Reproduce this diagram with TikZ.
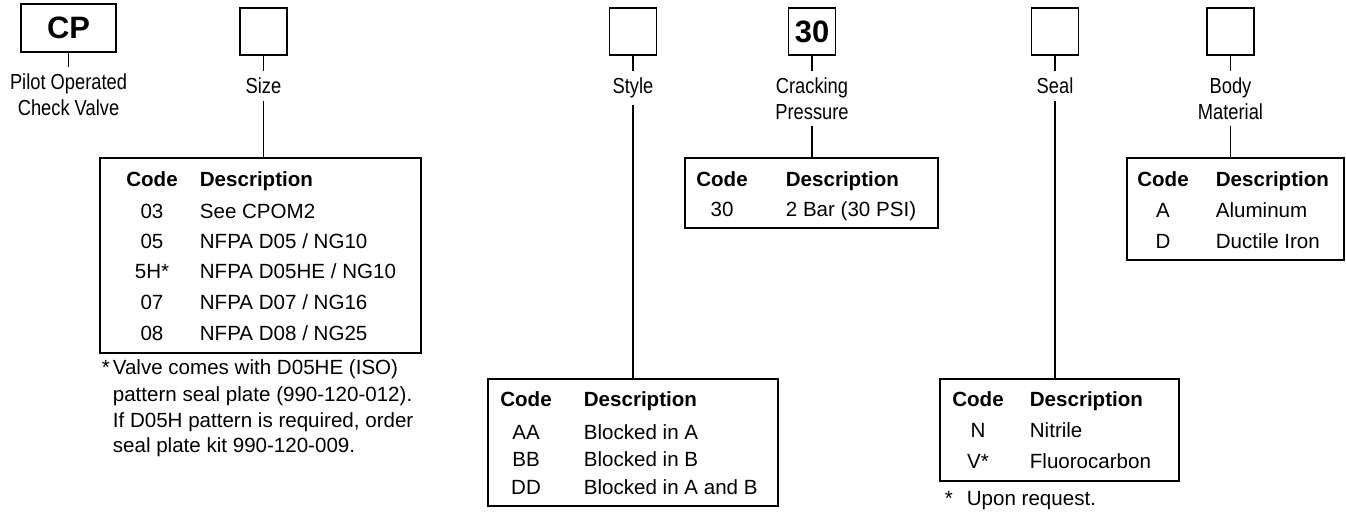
\documentclass[tikz,border=0pt]{standalone}
\usepackage{fontspec}
\setmainfont{Liberation Sans}
\newfontfamily\condfont[FakeStretch=0.84]{Liberation Sans}
\usetikzlibrary{positioning}

\begin{document}
\begin{tikzpicture}[x=0.02cm,y=-0.02cm,line width=1pt,
    selbox/.style={draw,minimum size=0.94cm,inner sep=0pt,font=\bfseries\fontsize{17.6}{20}\selectfont},
    lbl/.style={font=\condfont\fontsize{12.4}{14.7}\selectfont,align=center,inner sep=0.12cm},
    tbl/.style={draw,inner sep=0pt,anchor=north west},
    hd/.style={font=\bfseries\fontsize{11.7}{14}\selectfont,inner sep=0pt},
    cell/.style={font=\fontsize{11.7}{14}\selectfont,inner sep=0pt}]
  \useasboundingbox (0,0) rectangle (1346,512);

  % model code boxes
  \node[selbox,minimum width=1.9cm,minimum height=0.96cm] (cp) at (68.5,28) {CP};
  \node[lbl,below=0.28cm of cp] (cplbl) {Pilot Operated\\Check Valve};
  \draw (cp) -- (cplbl);
  \foreach \name/\x/\txt/\lab in {size/263.5//Size,style/633//Style,crack/812/30/{Cracking\\Pressure},
      seal/1055//Seal,body/1230.5//{Body\\Material}}
  {
    \node[selbox] (\name) at (\x,31.5) {\txt};
    \node[lbl,below=0.3cm of \name] (\name lbl) {\lab};
    \draw (\name) -- (\name lbl);
  }

  % option tables
  \node[tbl,minimum width=6.42cm,minimum height=3.9cm] (sizetab) at (99,157) {};
  \node[tbl,minimum width=5.8cm,minimum height=2.54cm] (styletab) at (487,378) {};
  \node[tbl,minimum width=5.06cm,minimum height=1.4cm] (cracktab) at (684,157) {};
  \node[tbl,minimum width=4.78cm,minimum height=2.04cm] (sealtab) at (939,378) {};
  \node[tbl,minimum width=4.34cm,minimum height=2.04cm] (bodytab) at (1126,157) {};
  \foreach \name in {size,style,crack,seal,body}
    \draw (\name lbl) -- (\name lbl.south |- \name tab.north);

  \foreach \tab/\cx/\dx/\y in {size/152/199/186,style/526/583/406,crack/722/785/186,
      seal/978/1029/406,body/1163/1215/186}
  {
    \node[hd,anchor=base] (\tab hc) at (\cx,\y) {Code};
    \node[hd,anchor=base west] (\tab hd) at (\dx,\y) {Description};
  }
  \foreach \tab/\cx/\dx/\y/\code/\desc [count=\i] in
      {size/152/199/218/03/See CPOM2,
       size/152/199/248/05/{NFPA D05 / NG10},
       size/152/199/278/5H*/{NFPA D05HE / NG10},
       size/152/199/309/07/{NFPA D07 / NG16},
       size/152/199/340/08/{NFPA D08 / NG25},
       style/526/583/439/AA/Blocked in A,
       style/526/583/466/BB/Blocked in B,
       style/526/583/494/DD/Blocked in A and B,
       crack/722/785/216/30/2 Bar (30 PSI),
       seal/978/1029/437/N/Nitrile,
       seal/978/1029/468/V*/Fluorocarbon,
       body/1163/1215/217/A/Aluminum,
       body/1163/1215/248/D/Ductile Iron}
  {
    \node[cell,anchor=base] (code\i) at (\cx,\y) {\code};
    \node[cell,anchor=base west] (desc\i) at (\dx,\y) {\desc};
  }

  % footnotes
  \node[cell,anchor=base west] (sizestar) at (101,374) {*};
  \foreach \y/\txt [count=\i] in {374/Valve comes with D05HE (ISO),401/pattern seal plate (990-120-012).,
      427/{If D05H pattern is required, order},452/seal plate kit 990-120-009.}
    \node[cell,anchor=base west] (sizenote\i) at (112,\y) {\txt};
  \node[cell,anchor=base west] (sealstar) at (944,505) {*};
  \node[cell,anchor=base west] (sealnote) at (966,505) {Upon request.};
\end{tikzpicture}
\end{document}
